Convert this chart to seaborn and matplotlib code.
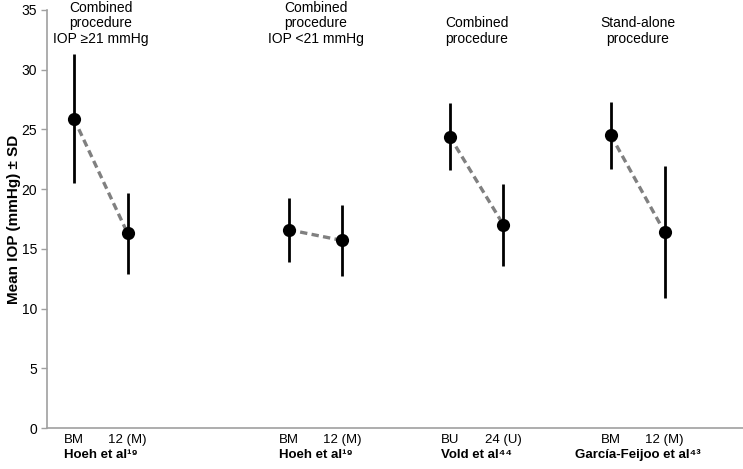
import pandas as pd
import numpy as np
import matplotlib
matplotlib.use('Agg')
import matplotlib.pyplot as plt
import matplotlib.transforms as mtransforms
import seaborn as sns

# data
studies = ['Hoeh et al¹⁹', 'Hoeh et al¹⁹', 'Vold et al⁴⁴', 'García-Feijoo et al⁴³']
groups = ['Combined\nprocedure\nIOP ≥21 mmHg', 'Combined\nprocedure\nIOP <21 mmHg',
          'Combined\nprocedure', 'Stand-alone\nprocedure']
timepoints = ['BM', '12 (M)', 'BM', '12 (M)', 'BU', '24 (U)', 'BM', '12 (M)']
slot = [0, 1, 4, 5, 7, 8, 10, 11]
group_id = [0, 0, 1, 1, 2, 2, 3, 3]
mean_iop = [25.9, 16.3, 16.6, 15.7, 24.4, 17.0, 24.5, 16.4]
sd_iop = [5.4, 3.4, 2.7, 3.0, 2.8, 3.4, 2.8, 5.5]

df = pd.DataFrame({'slot': slot, 'group': group_id, 'time': timepoints,
                   'iop': mean_iop, 'sd': sd_iop})

sns.set_style('white')
plt.rcParams['font.family'] = ['Liberation Sans', 'DejaVu Sans']
plt.rcParams['text.color'] = 'black'
plt.rcParams['axes.labelcolor'] = 'black'
plt.rcParams['ytick.labelcolor'] = 'black'
plt.rcParams['xtick.labelcolor'] = 'black'

fig = plt.figure(figsize=(7.43, 4.69), dpi=100)
ax = fig.add_axes([0.0633, 0.0874, 0.9367, 0.8913])

# dashed connectors within each study
for g, sub in df.groupby('group'):
    sns.lineplot(data=sub, x='slot', y='iop', ax=ax, color='#808080',
                 linewidth=2.4, legend=False, zorder=2)
    ax.lines[-1].set_dashes((2.2, 1.3))

ax.errorbar(df['slot'], df['iop'], yerr=df['sd'], fmt='none', ecolor='black',
            elinewidth=2.0, capsize=0, zorder=3)
sns.scatterplot(data=df, x='slot', y='iop', ax=ax, color='black', s=90,
                edgecolor='black', linewidth=0, zorder=4, legend=False)

ax.set_xlim(-0.5, 12.46)
ax.set_ylim(0, 35)
ax.set_yticks(np.arange(0, 36, 5))
ax.set_xticks(df['slot'])
ax.set_xticklabels(df['time'], fontsize=9.5)
ax.tick_params(axis='x', length=0, pad=4)
ax.tick_params(axis='y', length=4, width=1, color='#a0a0a0', direction='out',
               labelsize=10, pad=3, left=True)
ax.set_xlabel('')
ax.set_ylabel('Mean IOP (mmHg) ± SD', fontsize=11, fontweight='bold')
ax.yaxis.set_label_coords(-0.038, 0.5)

for side in ['top', 'right']:
    ax.spines[side].set_visible(False)
for side in ['left', 'bottom']:
    ax.spines[side].set_color('#a0a0a0')
    ax.spines[side].set_linewidth(1.2)

trans = mtransforms.blended_transform_factory(ax.transData, ax.transAxes)
for g in range(4):
    xs = df.loc[df['group'] == g, 'slot']
    xc = xs.mean()
    ax.text(xc, -0.065, studies[g], transform=trans, ha='center', va='center',
            fontsize=9.5, fontweight='bold')
    ax.text(xc, 32.0, groups[g], ha='center', va='bottom', fontsize=10,
            linespacing=1.15)

fig.savefig('out.png', dpi=100)
